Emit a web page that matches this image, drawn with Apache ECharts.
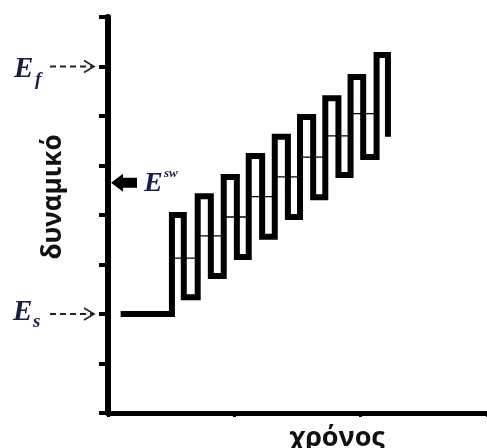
<!DOCTYPE html>
<html><head><meta charset="utf-8">
<script src="https://cdn.jsdelivr.net/npm/echarts@6/dist/echarts.min.js"></script>
<style>html,body{margin:0;padding:0;background:#fff}#c{width:487px;height:448px}</style>
</head><body><div id="c"></div>
<script>
// axis ticks (no labels shown)
const xTicks = [0, 5, 10, 15];
const yTicks = [0, 1, 2, 3, 4, 5, 6, 7, 8];
// initial rest period at Es
const restX = [0.5, 2.53];
const restE = 2;
// square-wave pulses
const upX   = [2.53, 3.55, 4.58, 5.57, 6.6, 7.6, 8.6, 9.6, 10.63];
const downX = [3.0, 4.07, 5.1, 6.1, 7.12, 8.12, 9.12, 10.1, 11.08];
const topE  = [4.0, 4.38, 4.77, 5.19, 5.58, 5.98, 6.36, 6.79, 7.23];
const botE  = [2.34, 2.77, 3.15, 3.56, 3.96, 4.36, 4.81, 5.17, 5.58];
// staircase (thin) levels
const stepE = [3.13, 3.58, 3.96, 4.37, 4.77, 5.17, 5.6, 6.05];
// annotation levels
const annotNames = ['Ef', 'Es', 'Esw'];
const annotE = [7, 2, 4.65];
const axisNames = ['χρόνος', 'δυναμικό'];

const wave = [[restX[0], restE], [restX[1], restE]];
for (let k = 0; k < upX.length; k++) {
  wave.push([upX[k], topE[k]], [downX[k], topE[k]], [downX[k], botE[k]]);
  if (k < upX.length - 1) wave.push([upX[k + 1], botE[k]]);
}
const mid = [];
for (let k = 0; k < stepE.length; k++) {
  mid.push([upX[k], stepE[k]], [upX[k + 1], stepE[k]], [upX[k + 1], '-']);
}

const chart = echarts.init(document.getElementById('c'), null, {renderer: 'canvas'});
chart.setOption({
  animation: false,
  backgroundColor: '#fff',
  grid: {left: 108, right: 0, top: 17, bottom: 35, containLabel: false},
  xAxis: {
    type: 'value', min: xTicks[0], max: xTicks[xTicks.length - 1], interval: xTicks[1] - xTicks[0],
    axisLine: {lineStyle: {color: '#000', width: 5}},
    axisTick: {show: true, length: 4, lineStyle: {color: '#000', width: 3}},
    axisLabel: {show: false}, splitLine: {show: false}
  },
  yAxis: {
    type: 'value', min: yTicks[0], max: yTicks[yTicks.length - 1], interval: yTicks[1] - yTicks[0],
    axisLine: {lineStyle: {color: '#000', width: 6}},
    axisTick: {show: true, length: 9, lineStyle: {color: '#000', width: 4}},
    axisLabel: {show: false}, splitLine: {show: false}
  },
  series: [
    {type: 'line', data: mid, symbol: 'none', connectNulls: false, z: 2,
     lineStyle: {color: '#000', width: 1.3}},
    {type: 'line', data: wave, symbol: 'none', z: 3,
     lineStyle: {color: '#000', width: 6, join: 'miter', cap: 'butt'}}
  ]
});

const yPix = v => chart.convertToPixel({gridIndex: 0}, [0, v])[1];
const yEf = yPix(annotE[0]), yEs = yPix(annotE[1]), ySw = yPix(annotE[2]);
const eCol = '#1a1d48';
const serif = '"Liberation Serif", "Times New Roman", serif';
function dashArrow(y) {
  return [
    {type: 'line', shape: {x1: 50, y1: y, x2: 93, y2: y},
     style: {stroke: '#222', lineWidth: 1.8, lineDash: [6, 4]}},
    {type: 'polyline', shape: {points: [[84, y - 6], [94, y], [84, y + 6]]},
     style: {stroke: '#222', lineWidth: 1.6, fill: null}}
  ];
}
const g = [];
g.push({type: 'text', x: 14, y: yEf + 3, style: {text: 'E', font: 'bold italic 29px ' + serif, fill: eCol, verticalAlign: 'middle'}});
g.push({type: 'text', x: 35, y: yEf + 14, style: {text: 'f', font: 'bold italic 19px ' + serif, fill: eCol, verticalAlign: 'middle'}});
g.push(...dashArrow(yEf));
g.push({type: 'text', x: 13, y: yEs - 1, style: {text: 'E', font: 'bold italic 29px ' + serif, fill: eCol, verticalAlign: 'middle'}});
g.push({type: 'text', x: 33, y: yEs + 8, style: {text: 's', font: 'bold italic 19px ' + serif, fill: eCol, verticalAlign: 'middle'}});
g.push(...dashArrow(yEs));
g.push({type: 'polygon', shape: {points: [[111, ySw], [123, ySw - 9], [123, ySw - 5], [137, ySw - 5], [137, ySw + 5], [123, ySw + 5], [123, ySw + 9]]},
        style: {fill: '#000'}});
g.push({type: 'text', x: 144, y: ySw + 1, style: {text: 'E', font: 'bold italic 28px ' + serif, fill: eCol, verticalAlign: 'middle'}});
g.push({type: 'text', x: 164, y: ySw - 9, style: {text: 'sw', font: 'bold italic 13px ' + serif, fill: eCol, verticalAlign: 'middle'}});
g.push({type: 'text', x: 337, y: 438, style: {text: axisNames[0], font: 'bold 27px "Open Sans", sans-serif', fill: '#111', align: 'center', verticalAlign: 'middle'}});
g.push({type: 'text', x: 54, y: 197, rotation: Math.PI / 2, style: {text: axisNames[1], font: 'bold 26px "Open Sans", sans-serif', fill: '#111', align: 'center', verticalAlign: 'middle'}});
chart.setOption({graphic: {elements: g}});
</script></body></html>
